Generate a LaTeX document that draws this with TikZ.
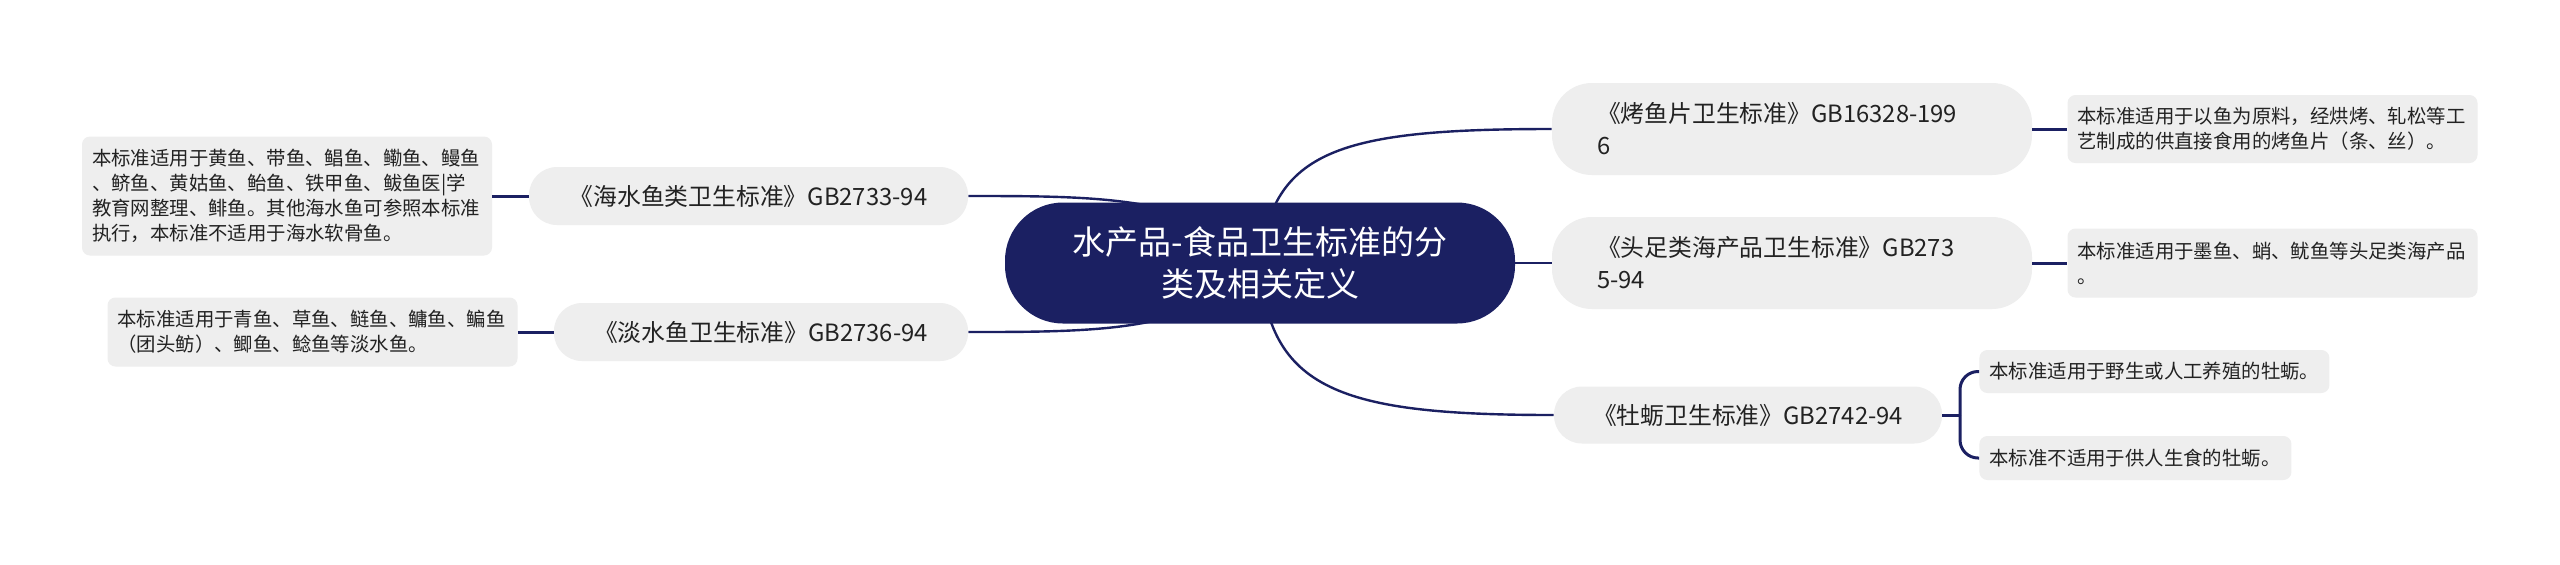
\documentclass[tikz,border=0pt]{standalone}
\usepackage{fontspec}
\setmainfont{Noto Sans CJK SC}
\usetikzlibrary{positioning,backgrounds}
\definecolor{navy}{RGB}{27,32,98}
\definecolor{boxgray}{RGB}{238,238,238}
\definecolor{ink}{RGB}{34,34,34}
\tikzset{
  rootnode/.style={fill=navy, text=white, rounded corners=29pt, minimum width=255pt, minimum height=60.5pt, inner sep=0pt, align=center, font=\fontsize{16.5}{21}\selectfont},
  topicbox/.style={fill=boxgray, text=ink, rounded corners=14pt, minimum height=29pt, inner sep=0pt, align=center, font=\fontsize{11.9}{16}\selectfont},
  topicwide/.style={topicbox, rounded corners=20pt, minimum width=240pt, minimum height=46pt, text width=195pt, align=left},
  notebox/.style={fill=boxgray, text=ink, rounded corners=4pt, inner xsep=5pt, inner ysep=0pt, text width=195pt, align=left, font=\fontsize{9.7}{12.5}\selectfont},
  link/.style={draw=navy, line width=1.2pt},
  stub/.style={draw=navy, line width=1.5pt},
}
\begin{document}
\begin{tikzpicture}[x=0.5pt,y=-0.5pt]
\useasboundingbox (0,0) rectangle (2560,564);
% centre
\node[rootnode] (root) at (1260,263) {水产品-食品卫生标准的分\\类及相关定义};
% left side
\node[topicbox, minimum width=219.5pt] (sea) at (748.5,196) {《海水鱼类卫生标准》GB2733-94};
\node[topicbox, minimum width=207pt] (fresh) at (761,332) {《淡水鱼卫生标准》GB2736-94};
\node[notebox, minimum height=59.5pt] (seanote) at (287,196) {本标准适用于黄鱼、带鱼、鲳鱼、鳓鱼、鳗鱼\\、鲚鱼、黄姑鱼、鲐鱼、铁甲鱼、鲅鱼医|学\\教育网整理、鲱鱼。其他海水鱼可参照本标准\\执行，本标准不适用于海水软骨鱼。};
\node[notebox, minimum height=34.5pt] (freshnote) at (312.5,332) {本标准适用于青鱼、草鱼、鲢鱼、鳙鱼、鳊鱼\\（团头鲂）、鲫鱼、鲶鱼等淡水鱼。};
% right side
\node[topicwide] (grill) at (1792,129) {《烤鱼片卫生标准》GB16328-199\\6};
\node[topicwide] (ceph) at (1792,263) {《头足类海产品卫生标准》GB273\\5-94};
\node[topicbox, minimum width=194pt, minimum height=28.5pt] (oyster) at (1748,415) {《牡蛎卫生标准》GB2742-94};
\node[notebox, minimum height=34pt] (grillnote) at (2272.5,129) {本标准适用于以鱼为原料，经烘烤、轧松等工\\艺制成的供直接食用的烤鱼片（条、丝）。};
\node[notebox, minimum height=34.5pt] (cephnote) at (2272.5,263) {本标准适用于墨鱼、蛸、鱿鱼等头足类海产品\\。};
\node[notebox, text width=165pt, minimum height=21.5pt, anchor=west] (oyster1) at (1979,371.5) {本标准适用于野生或人工养殖的牡蛎。};
\node[notebox, text width=146pt, minimum height=22pt, anchor=west] (oyster2) at (1979,458) {本标准不适用于供人生食的牡蛎。};
\coordinate (fork) at (1960,415);

\begin{scope}[on background layer]
\fill[white] (0,0) rectangle (2560,564);
\draw[link] (root.center) .. controls (1200,196) and (1100,196) .. (sea.east);
\draw[link] (root.center) .. controls (1200,332) and (1100,332) .. (fresh.east);
\draw[link] (root.center) .. controls (1272,150) and (1340,129) .. (grill.west);
\draw[link] (root.east) -- (ceph.west);
\draw[link] (root.center) .. controls (1268,390) and (1340,415) .. (oyster.west);
\end{scope}
\draw[stub] (seanote.east) -- (sea.west);
\draw[stub] (freshnote.east) -- (fresh.west);
\draw[stub] (grill.east) -- (grillnote.west);
\draw[stub] (ceph.east) -- (cephnote.west);
\draw[stub] (oyster.east) -- (fork);
\draw[stub, rounded corners=9pt] (fork) |- (oyster1.west);
\draw[stub, rounded corners=9pt] (fork) |- (oyster2.west);
\end{tikzpicture}
\end{document}
